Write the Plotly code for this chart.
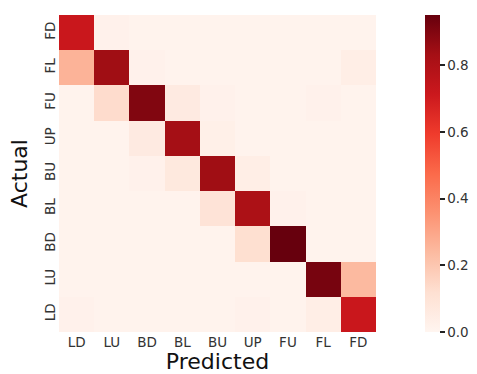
import plotly.graph_objects as go

pred_labels = ["LD", "LU", "BD", "BL", "BU", "UP", "FU", "FL", "FD"]
actual_labels = ["FD", "FL", "FU", "UP", "BU", "BL", "BD", "LU", "LD"]

row_FD = [0.72, 0.02, 0.01, 0.01, 0.01, 0.01, 0.01, 0.01, 0.01]
row_FL = [0.26, 0.84, 0.02, 0.01, 0.01, 0.01, 0.01, 0.01, 0.04]
row_FU = [0.01, 0.13, 0.90, 0.06, 0.02, 0.01, 0.01, 0.02, 0.01]
row_UP = [0.01, 0.01, 0.06, 0.83, 0.03, 0.01, 0.01, 0.01, 0.01]
row_BU = [0.01, 0.01, 0.02, 0.07, 0.84, 0.04, 0.01, 0.01, 0.01]
row_BL = [0.01, 0.01, 0.01, 0.01, 0.10, 0.81, 0.02, 0.01, 0.01]
row_BD = [0.01, 0.01, 0.01, 0.01, 0.01, 0.12, 0.95, 0.01, 0.01]
row_LU = [0.01, 0.01, 0.01, 0.01, 0.01, 0.01, 0.01, 0.92, 0.24]
row_LD = [0.02, 0.01, 0.01, 0.01, 0.01, 0.02, 0.01, 0.04, 0.72]

z = [row_FD, row_FL, row_FU, row_UP, row_BU, row_BL, row_BD, row_LU, row_LD]

reds = ["#fff5f0", "#fee0d2", "#fcbba1", "#fc9272", "#fb6a4a",
        "#ef3b2c", "#cb181d", "#a50f15", "#67000d"]
colorscale = [[i / (len(reds) - 1), c] for i, c in enumerate(reds)]

font_family = "DejaVu Sans"
tick_size = 13.5

fig = go.Figure(go.Heatmap(
    z=z, x=pred_labels, y=actual_labels,
    colorscale=colorscale, zmin=0, zmax=0.95,
    xgap=0, ygap=0,
    colorbar=dict(
        x=1.155, xanchor="left", xref="paper", xpad=0, ypad=0,
        y=0.5, yanchor="middle", len=1.0, lenmode="fraction",
        thickness=15, outlinewidth=0,
        tickvals=[0.0, 0.2, 0.4, 0.6, 0.8],
        ticktext=["0.0", "0.2", "0.4", "0.6", "0.8"],
        ticks="outside", ticklen=5, tickwidth=1.5, tickcolor="#222",
        tickfont=dict(family=font_family, size=tick_size, color="#333"),
    ),
))

fig.update_layout(
    width=477, height=374,
    margin=dict(l=59, r=101, t=15, b=42, autoexpand=False),
    paper_bgcolor="white", plot_bgcolor="white",
    font=dict(family=font_family, color="#333"),
    xaxis=dict(
        title=dict(text="Predicted", font=dict(size=22, color="#111"), standoff=7),
        tickfont=dict(size=tick_size, color="#333"),
        showgrid=False, zeroline=False, ticks="", ticklen=0, automargin=False,
    ),
    yaxis=dict(
        title=dict(text="Actual", font=dict(size=22, color="#111"), standoff=8),
        tickfont=dict(size=tick_size, color="#333"),
        tickangle=-90,
        autorange="reversed",
        showgrid=False, zeroline=False, ticks="", ticklen=0, automargin=False,
    ),
)

fig.write_html("out.html", config={"displayModeBar": False},
               post_script="document.body.style.margin='0px';")
